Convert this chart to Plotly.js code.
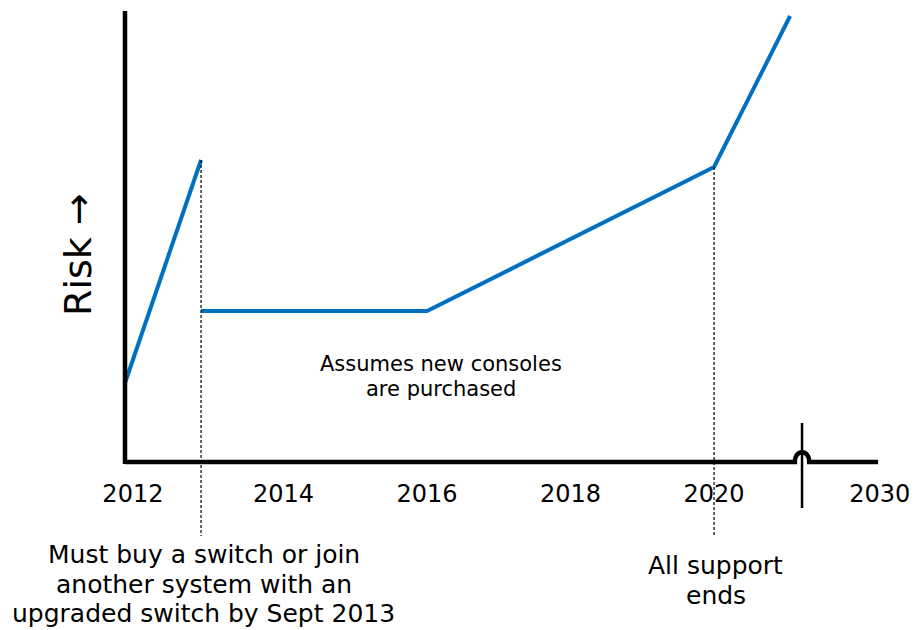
<!DOCTYPE html>
<html><head><meta charset="utf-8">
<script src="https://cdn.plot.ly/plotly-3.0.1.min.js"></script>
<style>html,body{margin:0;padding:0;background:#fff}#chart{width:918px;height:630px}</style>
</head><body><div id="chart"></div>
<script>
// Risk curve, segment 1 (before switch deadline)
const seg1Years = [2011.79, 2012.85];
const seg1Risk  = [0.79, 3.02];
// Risk curve, segment 2 (after new consoles)
const seg2Years = [2012.85, 2016, 2020, 2021.06];
const seg2Risk  = [1.51, 1.51, 2.95, 4.46];
// Tick labels (2030 sits after the axis break)
const tickPos   = [2011.9, 2014, 2016, 2018, 2020, 2022.31];
const tickText  = ['2012', '2014', '2016', '2018', '2020', '2030'];
// Milestones
const deadlineYear = 2012.85, deadlineRisk = 3.02;
const supportEndYear = 2020, supportEndRisk = 2.95;
const breakYear = 2021.226;
// Notes
const yTitle = 'Risk →';
const deadlineNote = ['Must buy a switch or join', 'another system with an', 'upgraded switch by Sept 2013'];
const supportNote  = ['All support', 'ends'];
const consoleNote  = ['Assumes new consoles', 'are purchased'];

const FONT = 'DejaVu Sans, Verdana, sans-serif';
const xStart = 2011.79, xEnd = 2022.286, yTop = 4.51;

const traces = [
  {x: seg1Years, y: seg1Risk, mode: 'lines', line: {color: '#0070C0', width: 4}, hoverinfo: 'skip'},
  {x: seg2Years, y: seg2Risk, mode: 'lines', line: {color: '#0070C0', width: 4}, hoverinfo: 'skip'}
];

const bw = 0.1;
const shapes = [
  {type: 'line', xref: 'x', yref: 'y', x0: deadlineYear, x1: deadlineYear, y0: deadlineRisk, y1: -0.74,
   line: {color: '#000', width: 1.2, dash: '3px,2px'}},
  {type: 'line', xref: 'x', yref: 'y', x0: supportEndYear, x1: supportEndYear, y0: supportEndRisk, y1: -0.73,
   line: {color: '#000', width: 1.2, dash: '3px,2px'}},
  {type: 'line', xref: 'x', yref: 'y', x0: xStart, x1: xStart, y0: -0.02, y1: yTop,
   line: {color: '#000', width: 4.5}},
  {type: 'path', xref: 'x', yref: 'y',
   path: `M ${xStart},0 L ${breakYear - bw},0 C ${breakYear - bw},0.13 ${breakYear + bw},0.13 ${breakYear + bw},0 L ${xEnd},0`,
   line: {color: '#000', width: 4.5}},
  {type: 'line', xref: 'x', yref: 'y', x0: breakYear, x1: breakYear, y0: 0.39, y1: -0.46,
   line: {color: '#000', width: 2.5}}
];

const annotations = [
  {xref: 'x', yref: 'y', x: 2011.135, y: 2.07, text: yTitle, textangle: -90, showarrow: false,
   xanchor: 'center', yanchor: 'middle', font: {family: FONT, size: 38, color: '#000'}}
];
const consoleY = [0.98, 0.73];
consoleNote.forEach((t, i) => annotations.push({xref: 'x', yref: 'y', x: 2016.2, y: consoleY[i], text: t,
  showarrow: false, xanchor: 'center', yanchor: 'middle', font: {family: FONT, size: 21, color: '#000'}}));
const deadlineY = [-0.92, -1.22, -1.51];
deadlineNote.forEach((t, i) => annotations.push({xref: 'x', yref: 'y', x: 2012.89, y: deadlineY[i], text: t,
  showarrow: false, xanchor: 'center', yanchor: 'middle', font: {family: FONT, size: 25, color: '#000'}}));
const supportY = [-1.03, -1.33];
supportNote.forEach((t, i) => annotations.push({xref: 'x', yref: 'y', x: 2020.02, y: supportY[i], text: t,
  showarrow: false, xanchor: 'center', yanchor: 'middle', font: {family: FONT, size: 25, color: '#000'}}));

const layout = {
  width: 918, height: 630,
  margin: {l: 0, r: 0, t: 0, b: 0, pad: 0},
  paper_bgcolor: '#fff', plot_bgcolor: '#fff',
  showlegend: false,
  font: {family: FONT, color: '#000'},
  xaxis: {range: [xStart - 125/71.75, xStart + 793/71.75], showgrid: false, zeroline: false, showline: false,
          anchor: 'free', position: 168/630,
          tickvals: tickPos, ticktext: tickText, ticks: 'outside', ticklen: 10, tickcolor: 'rgba(0,0,0,0)',
          tickfont: {family: FONT, size: 24, color: '#000'}, fixedrange: true},
  yaxis: {range: [-1.68, 4.62], showgrid: false, zeroline: false, showline: false, showticklabels: false,
          anchor: 'free', position: 125/918, ticks: '', fixedrange: true},
  shapes: shapes,
  annotations: annotations
};

Plotly.newPlot('chart', traces, layout, {displayModeBar: false, staticPlot: true});
</script></body></html>
